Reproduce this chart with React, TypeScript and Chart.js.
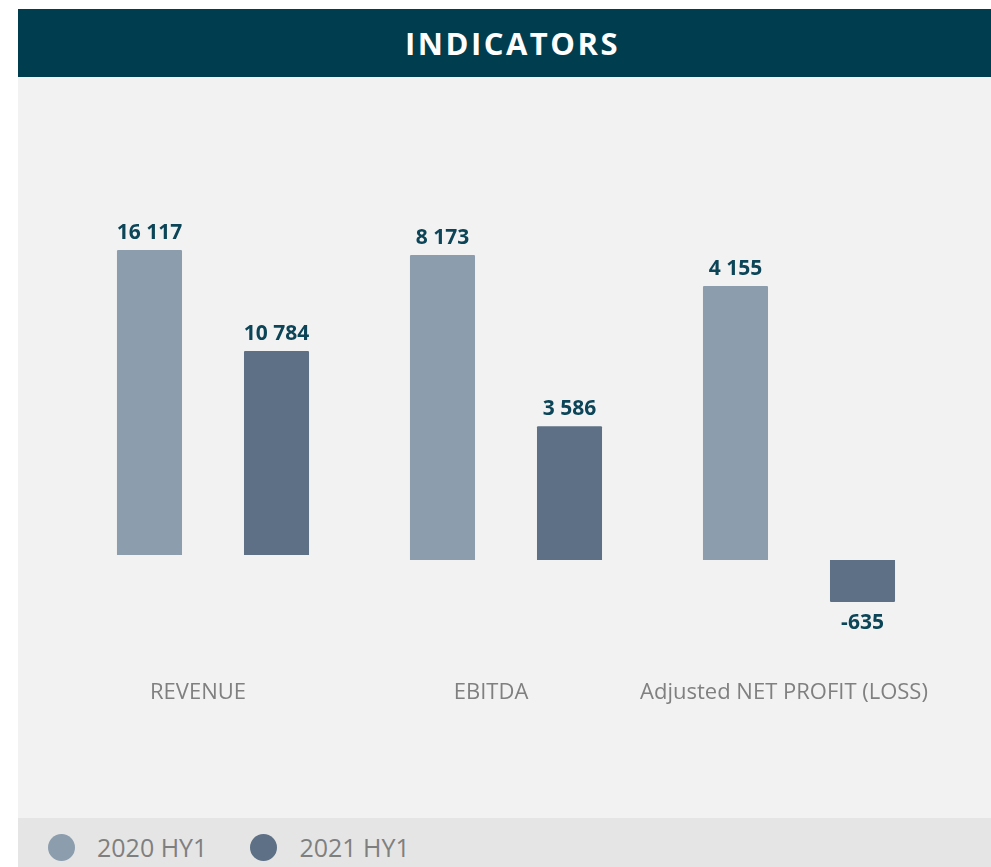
import React, { useEffect, useRef } from "react";
import { Chart, registerables } from "chart.js";

Chart.register(...registerables);

const categories = ["REVENUE", "EBITDA", "Adjusted NET PROFIT (LOSS)"];
const seriesNames = ["2020 HY1", "2021 HY1"];
const values2020 = [16117, 8173, 4155];
const values2021 = [10784, 3586, -635];
const axisMin = [-6183, -3001, -1698];
const axisMax = [24043, 12326, 6975];

const colors = ["#8c9dad", "#5e7085"];
const labelColor = "#0c4557";
const FONT = "'Open Sans', 'Noto Sans', sans-serif";

function fmt(v: number): string {
  const s = Math.abs(v).toString().replace(/\B(?=(\d{3})+(?!\d))/g, " ");
  return (v < 0 ? "-" : "") + s;
}

const valueLabels = {
  id: "valueLabels",
  afterDatasetsDraw(chart: any) {
    const ctx = chart.ctx;
    ctx.save();
    ctx.font = `700 21px ${FONT}`;
    ctx.fillStyle = labelColor;
    ctx.textAlign = "center";
    ctx.textBaseline = "alphabetic";
    chart.data.datasets.forEach((ds: any, di: number) => {
      const meta = chart.getDatasetMeta(di);
      meta.data.forEach((el: any, i: number) => {
        const v = ds.data[i];
        if (v === null || v === undefined) return;
        const y = v >= 0 ? el.y - 11 : el.y + 27;
        ctx.fillText(fmt(v), el.x, y);
      });
    });
    ctx.restore();
  },
};

export default function App() {
  const ref = useRef<HTMLCanvasElement | null>(null);

  useEffect(() => {
    if (!ref.current) return;
    const datasets: any[] = [];
    categories.forEach((_, ci) => {
      [values2020, values2021].forEach((vals, si) => {
        datasets.push({
          label: seriesNames[si],
          data: categories.map((__, k) => (k === ci ? vals[ci] : null)),
          backgroundColor: colors[si],
          borderWidth: 0,
          borderRadius: 1,
          yAxisID: "y" + ci,
          categoryPercentage: 0.867,
          barPercentage: 0.512,
          skipNull: true,
        });
      });
    });
    const yScales: any = {};
    categories.forEach((_, ci) => {
      yScales["y" + ci] = {
        display: false,
        min: axisMin[ci],
        max: axisMax[ci],
      };
    });
    const chart = new Chart(ref.current, {
      type: "bar",
      data: { labels: categories, datasets },
      options: {
        animation: false,
        responsive: false,
        maintainAspectRatio: false,
        layout: { padding: { left: 48.5, right: 45.5, top: 23, bottom: 103.6 } },
        plugins: { legend: { display: false }, tooltip: { enabled: false } },
        scales: {
          x: {
            type: "category",
            grid: { display: false, drawTicks: false },
            border: { display: false },
            ticks: {
              color: "#808080",
              font: { family: FONT, size: 22, weight: "normal" },
              padding: 8,
              labelOffset: -15,
              maxRotation: 0,
              autoSkip: false,
            },
          },
          ...yScales,
        },
      },
      plugins: [valueLabels],
    });
    return () => chart.destroy();
  }, []);

  return (
    <div
      style={{
        position: "absolute",
        left: 18,
        top: 9,
        width: 973,
        height: 858,
        overflow: "hidden",
        fontFamily: FONT,
      }}
    >
      <div
        style={{
          height: 68,
          background: "#003d4f",
          color: "#ffffff",
          display: "flex",
          alignItems: "center",
          justifyContent: "center",
          paddingLeft: 16,
          boxSizing: "border-box",
          fontSize: 31,
          fontWeight: 700,
          letterSpacing: 2.5,
        }}
      >
        INDICATORS
      </div>
      <div style={{ height: 741, background: "#f2f2f2" }}>
        <canvas ref={ref} width={973} height={741} style={{ display: "block" }} />
      </div>
      <div
        style={{
          height: 58,
          background: "#e5e5e5",
          display: "flex",
          alignItems: "center",
          paddingLeft: 30,
          fontSize: 25,
          color: "#7f7f7f",
        }}
      >
        {seriesNames.map((n, i) => (
          <div key={n} style={{ display: "flex", alignItems: "center", marginRight: 43 }}>
            <span
              style={{
                width: 27,
                height: 27,
                borderRadius: "50%",
                background: colors[i],
                display: "inline-block",
                marginRight: 22,
              }}
            />
            <span>{n}</span>
          </div>
        ))}
      </div>
    </div>
  );
}
